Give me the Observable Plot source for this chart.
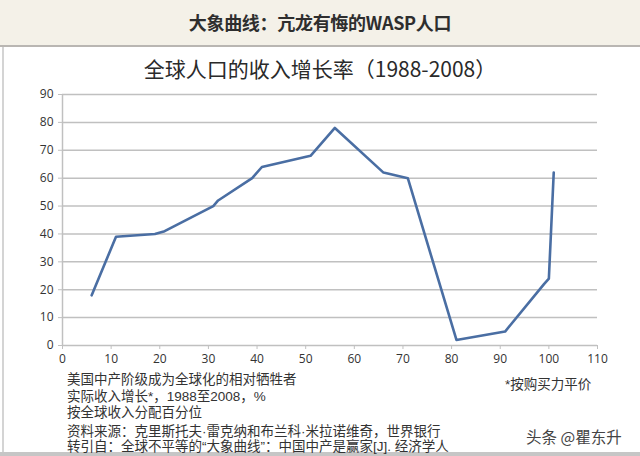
<!DOCTYPE html>
<html>
<head>
<meta charset="utf-8">
<script src="https://cdn.jsdelivr.net/npm/d3@7"></script>
<script src="https://cdn.jsdelivr.net/npm/@observablehq/plot@0.6"></script>
<style>
  html, body { margin: 0; padding: 0; background: #fff; }
  #wrap { position: relative; width: 640px; height: 456px; overflow: hidden; background: #fff;
          font-family: "Noto Sans CJK SC", "Noto Sans", sans-serif; }
  #band { position: absolute; left: 0; top: 0; width: 640px; height: 45px; background: #f4f1e8;
          border-bottom: 2px solid #b9b6b2; }
  #head { position: absolute; left: 0; top: 11px; width: 640px; text-align: center; font-size: 18px; line-height: 22px;
          font-weight: bold; color: #2e2e2e; letter-spacing: -0.3px; }
  #panelL { position: absolute; left: 2px; top: 47px; width: 2px; height: 406px; background: #d4d4d4; }
  #panelB { position: absolute; left: 0; top: 452px; width: 640px; height: 4px; background: #c6c6c6; }
  #title { position: absolute; left: 0; top: 55px; width: 640px; text-align: center; font-size: 21px; line-height: 26px; color: #2a2a2a; }
  #plot { position: absolute; left: 0; top: 80px; }
  .note { position: absolute; font-family: "Liberation Sans", "Noto Sans CJK SC", sans-serif;
          font-size: 13.5px; line-height: 16px; color: #333; white-space: nowrap; }
  #wm { position: absolute; left: 526px; top: 426px; font-size: 15.5px; line-height: 20px; color: #444; white-space: nowrap; }
</style>
</head>
<body>
<div id="wrap">
  <div id="band"></div>
  <div id="head">大象曲线：亢龙有悔的WASP人口</div>
  <div id="panelL"></div>
  <div id="panelB"></div>
  <div id="title">全球人口的收入增长率（1988-2008）</div>
  <div id="plot"></div>
  <div class="note" style="left:67px; top:372px;">美国中产阶级成为全球化的相对牺牲者</div>
  <div class="note" style="left:67px; top:389px;">实际收入增长*，1988至2008，%</div>
  <div class="note" style="left:67px; top:405px;">按全球收入分配百分位</div>
  <div class="note" style="left:67px; top:424px;">资料来源：克里斯托夫·雷克纳和布兰科·米拉诺维奇，世界银行</div>
  <div class="note" style="left:67px; top:439px;">转引自：全球不平等的“大象曲线”：中国中产是赢家[J]. 经济学人</div>
  <div class="note" style="left:505px; top:377px;">*按购买力平价</div>
  <div id="wm">头条 @瞿东升</div>
</div>
<script>
const percentile = [6, 11, 19, 21, 31, 32, 39, 41, 51, 56, 66, 71, 81, 91, 99, 100, 101];
const growth     = [18, 39, 40, 41, 50, 52, 60, 64, 68, 78, 62, 60, 2, 5, 22, 24, 62];
const xTicks = [0, 10, 20, 30, 40, 50, 60, 70, 80, 90, 100, 110];
const yTicks = [0, 10, 20, 30, 40, 50, 60, 70, 80, 90];

const data = percentile.map((p, i) => ({p, g: growth[i]}));

const chart = Plot.plot({
  width: 640,
  height: 290,
  marginLeft: 62,
  marginRight: 43,
  marginTop: 14,
  marginBottom: 25,
  style: {fontFamily: "'Open Sans', 'Liberation Sans', sans-serif", fontSize: "12px", color: "#333", background: "transparent"},
  x: {domain: [0, 110], ticks: xTicks, label: null, tickSize: 4, tickPadding: 4},
  y: {domain: [0, 90], ticks: yTicks, label: null, tickSize: 4, tickPadding: 4},
  marks: [
    Plot.gridY(yTicks.filter(d => d > 0), {stroke: "#c0c0c0", strokeOpacity: 1, strokeWidth: 1.5}),
    Plot.ruleX([0], {stroke: "#c0c0c0", strokeWidth: 1.5}),
    Plot.ruleY([0], {stroke: "#c0c0c0", strokeWidth: 1.5}),
    Plot.axisX({ticks: xTicks, stroke: "#c0c0c0", tickSize: 4, label: null, fill: "#333"}),
    Plot.axisY({ticks: yTicks, stroke: "#c0c0c0", tickSize: 4, label: null, fill: "#333"}),
    Plot.line(data, {x: "p", y: "g", stroke: "#4a6ea3", strokeWidth: 2.6})
  ]
});
document.getElementById("plot").appendChild(chart);
</script>
</body>
</html>
